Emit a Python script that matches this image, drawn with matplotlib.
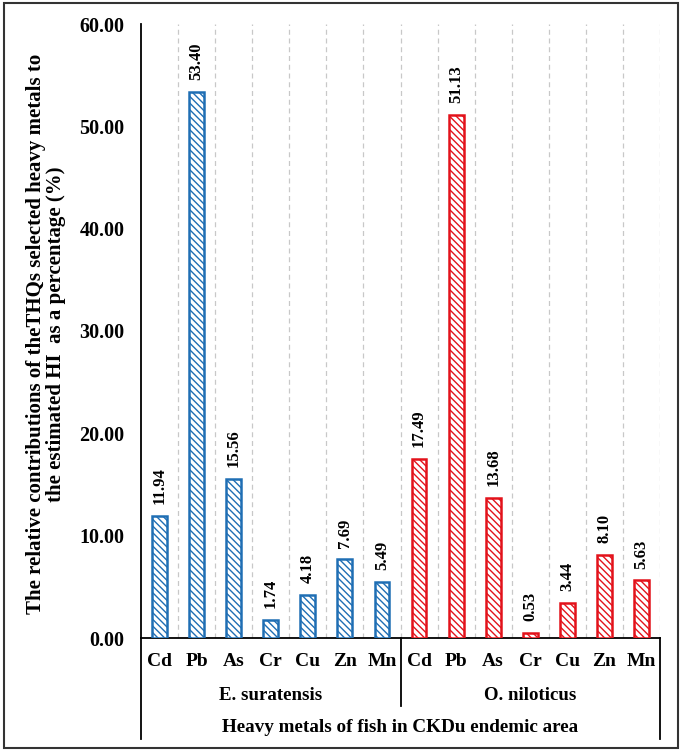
import matplotlib
matplotlib.use("Agg")
import matplotlib.pyplot as plt
from matplotlib.patches import Rectangle
from matplotlib.lines import Line2D

metals = ["Cd", "Pb", "As", "Cr", "Cu", "Zn", "Mn"]
species = ["E. suratensis", "O. niloticus"]
e_suratensis = [11.94, 53.40, 15.56, 1.74, 4.18, 7.69, 5.49]
o_niloticus = [17.49, 51.13, 13.68, 0.53, 3.44, 8.10, 5.63]
yticks = [0, 10, 20, 30, 40, 50, 60]
ylabel = "The relative contributions of theTHQs selected heavy metals to\nthe estimated HI  as a percentage (%)"
xtitle = "Heavy metals of fish in CKDu endemic area"

plt.rcParams['font.family'] = ['Liberation Serif', 'DejaVu Serif']
plt.rcParams['font.weight'] = 'bold'
plt.rcParams['hatch.linewidth'] = 1.0

W, H = 685, 754
fig = plt.figure(figsize=(W / 100, H / 100), dpi=100)
L, R, T, B = 141, 660, 24, 638
ax = fig.add_axes([L / W, 1 - B / H, (R - L) / W, (B - T) / H])

blue = '#1F6EB4'
red = '#E3121B'
n = len(metals)
xs1 = list(range(n))
xs2 = [n + i for i in range(n)]
bw = 0.40
b1 = ax.bar(xs1, e_suratensis, width=bw, facecolor='white', edgecolor=blue,
            hatch='\\' * 5, linewidth=1.8, zorder=3)
b2 = ax.bar(xs2, o_niloticus, width=bw, facecolor='white', edgecolor=red,
            hatch='\\' * 5, linewidth=1.8, zorder=3)

for bars, vals in ((b1, e_suratensis), (b2, o_niloticus)):
    for rect, v in zip(bars, vals):
        ax.annotate(f"{v:.2f}", (rect.get_x() + rect.get_width() / 2, v),
                    xytext=(0, 8.5), textcoords='offset points', rotation=90,
                    ha='center', va='bottom', fontsize=12, fontweight='bold')

ax.set_xlim(-0.5, 2 * n - 0.5)
ax.set_ylim(0, 60)
ax.set_yticks(yticks)
ax.set_yticklabels([f"{v:.2f}" for v in yticks], fontsize=14.5, fontweight='bold')
ax.tick_params(axis='y', length=0, pad=12)
ax.set_xticks([])

# vertical dashed gridlines at category boundaries
for b in range(1, 2 * n + 1):
    ax.axvline(b - 0.5, color='#C8C8C8', linestyle=(0, (4, 3)), linewidth=0.9, zorder=1)

for s in ['top', 'right']:
    ax.spines[s].set_visible(False)
ax.spines['left'].set_linewidth(1.3)
ax.spines['bottom'].set_linewidth(1.3)

ah = B - T
def ay(py):
    return (B - py) / ah

# multi-level axis labels
for i, m in enumerate(metals + metals):
    ax.text(i, ay(661), m, transform=ax.get_xaxis_transform(), ha='center', va='center',
            fontsize=14, fontweight='bold')
for j, sp in enumerate(species):
    ax.text(j * n + (n - 1) / 2, ay(695), sp, transform=ax.get_xaxis_transform(),
            ha='center', va='center', fontsize=13.6, fontweight='bold')
ax.text(0.5, ay(728), xtitle, transform=ax.transAxes, ha='center', va='center',
        fontsize=13.8, fontweight='bold')

for xa, yb in ((0, 739), (0.5, 706), (1, 739)):
    ax.add_line(Line2D([xa, xa], [0, ay(yb)], transform=ax.transAxes, color='black',
                       linewidth=1.3, clip_on=False))

fig.text(46 / W, 1 - ((T + B) / 2 + 3) / H, ylabel, rotation=90, ha='center', va='center',
         fontsize=15, fontweight='bold', linespacing=1.0)

fig.patches.append(Rectangle((4 / W, 1 - 748 / H), (678 - 4) / W, (748 - 3) / H,
                             transform=fig.transFigure, fill=False, edgecolor='#333333',
                             linewidth=1.5))

fig.savefig("out.png", dpi=100)
